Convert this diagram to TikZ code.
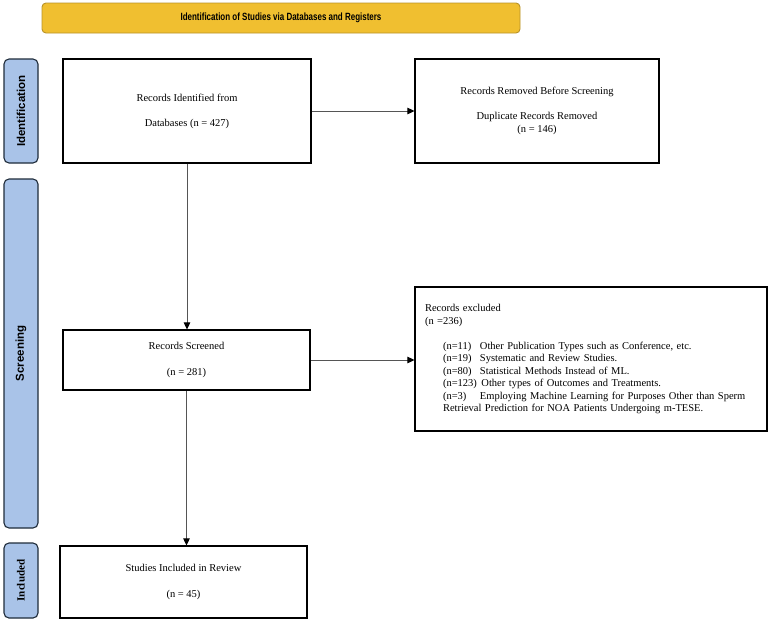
\documentclass[tikz,border=0pt]{standalone}
\usepackage{fontspec}
\setmainfont{Liberation Serif}
\newfontfamily\sansb{Liberation Sans}
\usetikzlibrary{arrows.meta}
\definecolor{gold}{HTML}{F0BF30}
\definecolor{goldedge}{HTML}{B8922A}
\definecolor{sideblue}{HTML}{A9C3E8}
\definecolor{sideedge}{HTML}{1E2B3A}
\definecolor{conn}{HTML}{555555}
\tikzset{
  x=1pt, y=-1pt,
  box/.style={draw=black, line width=1.1pt, fill=white, align=center, inner sep=0pt,
    font=\fontsize{10.5}{12.5}\selectfont},
  sidelabel/.style={draw=sideedge, line width=1.1pt, fill=sideblue, rounded corners=5pt,
    rotate=90, inner sep=0pt, font=\sansb\bfseries\fontsize{11.5}{13}\selectfont},
  arr/.style={draw=conn, line width=0.8pt, -{Triangle[length=7pt,width=6.5pt,fill=black,color=black]}},
}
\begin{document}
\begin{tikzpicture}
\useasboundingbox (0,0) rectangle (780,622);
% banner
\node[draw=goldedge, line width=0.9pt, fill=gold, rounded corners=4pt,
  minimum width=478pt, minimum height=30pt, inner sep=0pt,
  font=\sansb\bfseries\fontsize{10.5}{12}\selectfont] (banner) at (281,18)
  {\scalebox{0.76}[1]{Identification of Studies via Databases and Registers}};
% side labels
\node[sidelabel, minimum width=104pt, minimum height=34pt] (sideid) at (21,111) {Identification};
\node[sidelabel, minimum width=349pt, minimum height=34pt] (sidescr) at (21,353.5) {Screening};
\node[sidelabel, minimum width=75pt, minimum height=34pt, font=\bfseries\fontsize{11}{13}\selectfont] (sideinc) at (21,580.5) {Included};
% boxes
\node[box, minimum width=248pt, minimum height=104pt] (ident) at (187,111)
  {Records Identified from\\[12.5pt]Databases (n = 427)};
\node[box, minimum width=244pt, minimum height=104pt] (removed) at (537,111)
  {Records Removed Before Screening\\[12.5pt]Duplicate Records Removed\\(n = 146)};
\node[box, minimum width=247pt, minimum height=60pt] (screened) at (186.5,360)
  {Records Screened\\[13pt](n = 281)};
\node[box, minimum width=352pt, minimum height=144pt, text width=332pt, align=left] (excl) at (591,359)
  {Records excluded\\(n =236)\\[12.5pt]
   \hspace*{18pt}\makebox[37pt][l]{(n=11)}Other Publication Types such as Conference, etc.\\
   \hspace*{18pt}\makebox[37pt][l]{(n=19)}Systematic and Review Studies.\\
   \hspace*{18pt}\makebox[37pt][l]{(n=80)}Statistical Methods Instead of ML.\\
   \hspace*{18pt}\makebox[35pt][l]{(n=123)} Other types of Outcomes and Treatments.\\
   \hspace*{18pt}\makebox[37pt][l]{(n=3)}Employing Machine Learning for Purposes Other than Sperm\\
   \hspace*{18pt}Retrieval Prediction for NOA Patients Undergoing m-TESE.};
\node[box, minimum width=247pt, minimum height=72pt] (incl) at (183.5,582)
  {Studies Included in Review\\[14pt](n = 45)};
% connectors
\draw[arr] (ident.east) -- (removed.west);
\draw[arr] (ident.south) -- (ident.south |- screened.north);
\draw[arr] (screened.east) -- (screened.east -| excl.west);
\draw[arr] (screened.south) -- (screened.south |- incl.north);
\end{tikzpicture}
\end{document}
